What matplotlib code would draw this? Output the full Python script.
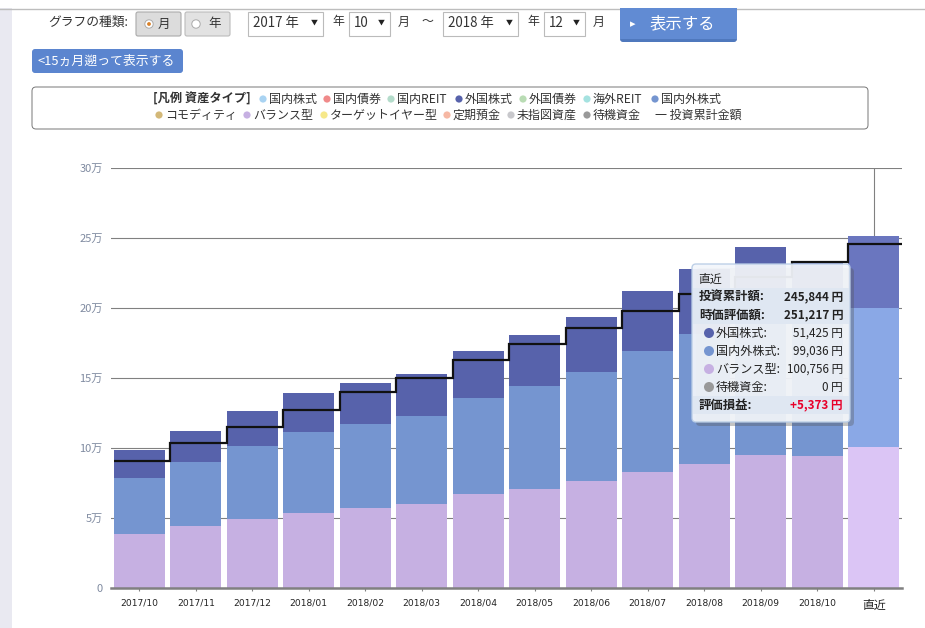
import matplotlib
matplotlib.use("Agg")
import matplotlib.pyplot as plt
import numpy as np
from matplotlib.patches import Circle, FancyBboxPatch, Rectangle

plt.rcParams['font.family'] = ['Noto Sans CJK JP', 'DejaVu Sans']

# chart values (yen)
months = ['2017/10', '2017/11', '2017/12', '2018/01', '2018/02', '2018/03', '2018/04',
          '2018/05', '2018/06', '2018/07', '2018/08', '2018/09', '2018/10', '直近']
balance = [38600, 44300, 49300, 53600, 57100, 60000, 67100,
           70700, 76400, 82900, 88600, 95000, 94300, 100756]
intl_mix = [40000, 45700, 52100, 57800, 60000, 63000, 68600,
            73600, 78000, 86400, 92800, 95000, 96700, 99036]
foreign = [20000, 22000, 25000, 27900, 29300, 30000, 33600,
           36400, 39200, 42800, 46500, 53600, 42000, 51425]
invested = [91000, 103600, 115000, 127000, 140000, 150000, 163000,
            174000, 186000, 198000, 210000, 222000, 233000, 245844]
y_ticks = [0, 50000, 100000, 150000, 200000, 250000, 300000]
y_labels = ['0', '5万', '10万', '15万', '20万', '25万', '30万']

legend_row1 = [('国内株式', '#a9d3f2', 263), ('国内債券', '#f08a8a', 327), ('国内REIT', '#b4dccb', 391),
               ('外国株式', '#5762ab', 459), ('外国債券', '#b9dcb4', 523), ('海外REIT', '#a5e2e0', 587),
               ('国内外株式', '#7595d0', 655)]
legend_row2 = [('コモディティ', '#d3b878', 159), ('バランス型', '#c6b0e2', 247), ('ターゲットイヤー型', '#f6e88a', 324),
               ('定期預金', '#f6b8a4', 447), ('未指図資産', '#c8c8cc', 511), ('待機資金', '#999999', 587)]

tip_rows = [('投資累計額:', '245,844 円', None), ('時価評価額:', '251,217 円', None),
            ('外国株式:', '51,425 円', '#5762ab'), ('国内外株式:', '99,036 円', '#7595d0'),
            ('バランス型:', '100,756 円', '#c6b0e2'), ('待機資金:', '0 円', '#999999'),
            ('評価損益:', '+5,373 円', None)]

W, H = 925, 628
fig = plt.figure(figsize=(W / 100, H / 100), dpi=100, facecolor='white')

# the chart itself
ax = fig.add_axes([111 / W, 1 - 588 / H, 791 / W, 420 / H])
x = np.arange(len(months))
balance = np.array(balance)
intl_mix = np.array(intl_mix)
foreign = np.array(foreign)

# last column is the hovered one, so it is lighter
col_balance = ['#c6b0e2'] * 13 + ['#dbc5f5']
col_mix = ['#7595d0'] * 13 + ['#8aa8e6']
col_foreign = ['#5762ab'] * 13 + ['#6a76bf']
ax.bar(x, balance, width=0.9, color=col_balance, zorder=3)
ax.bar(x, intl_mix, width=0.9, bottom=balance, color=col_mix, zorder=3)
ax.bar(x, foreign, width=0.9, bottom=balance + intl_mix, color=col_foreign, zorder=3)
ax.stairs(invested, np.arange(len(months) + 1) - 0.455, baseline=None, color='#111111', linewidth=1.6, zorder=4)
ax.plot([x[-1], x[-1]], [balance[-1] + intl_mix[-1] + foreign[-1], 300000], color='#808080', linewidth=0.8, zorder=2)

ax.set_xlim(-0.5, 13.5)
ax.set_ylim(0, 300000)
ax.set_yticks(y_ticks)
ax.set_yticklabels(y_labels, fontsize=8, color='#7f8aa0')
ax.set_xticks(x)
ax.set_xticklabels(months, fontsize=6.6, color='#222222', family='DejaVu Sans')
ax.get_xticklabels()[-1].set_fontsize(8.6)
ax.get_xticklabels()[-1].set_family('Noto Sans CJK JP')
ax.tick_params(axis='y', length=0, pad=6)
ax.tick_params(axis='x', length=2.5, color='#808080', pad=5)
ax.grid(axis='y', color='#808080', linewidth=0.8, zorder=1)
ax.set_axisbelow(True)
for name in ['top', 'left', 'right']:
    ax.spines[name].set_visible(False)
ax.spines['bottom'].set_color('#808080')
ax.spines['bottom'].set_linewidth(1.8)
ax.spines['bottom'].set_zorder(5)

# page furniture on an overlay in pixel coordinates
ui = fig.add_axes([0, 0, 1, 1], zorder=10)
ui.set_xlim(0, W)
ui.set_ylim(H, 0)
ui.axis('off')
ui.patch.set_alpha(0)


def box(x0, y0, x1, y1, face, edge='none', r=2, lw=0.8, alpha=1, z=1):
    ui.add_patch(FancyBboxPatch((x0 + r, y0 + r), x1 - x0 - 2 * r, y1 - y0 - 2 * r,
                                boxstyle='round,pad=%s,rounding_size=%s' % (r, r),
                                facecolor=face, edgecolor=edge, linewidth=lw, alpha=alpha, zorder=z))


def label(px, py, s, size=8.6, color='#333333', ha='left', weight='normal', z=6):
    ui.text(px, py, s, fontsize=size, color=color, ha=ha, va='center', fontweight=weight, zorder=z)


ui.add_patch(Rectangle((0, 8), 12, H - 8, facecolor='#e9e9f1', edgecolor='none'))
ui.plot([0, W], [8.5, 8.5], color='#bdbdbd', linewidth=1)

# form row
label(48, 22, 'グラフの種類:', 9.2)
box(136, 12, 181, 36, '#dcdcdc', '#aaaaaa')
box(185, 12, 230, 36, '#e2e2e2', '#bbbbbb')
ui.add_patch(Circle((149, 24), 4.2, facecolor='white', edgecolor='#aaaaaa', linewidth=0.7, zorder=3))
ui.add_patch(Circle((149, 24), 1.9, facecolor='#d9822b', edgecolor='none', zorder=4))
ui.add_patch(Circle((196, 24), 4.2, facecolor='white', edgecolor='#aaaaaa', linewidth=0.7, zorder=3))
label(158, 24, '月', 9)
label(208, 24, '年', 9)
for x0, x1, s in [(248, 323, '2017 年'), (349, 390, '10'), (443, 518, '2018 年'), (544, 585, '12')]:
    ui.add_patch(Rectangle((x0, 12), x1 - x0, 24, facecolor='white', edgecolor='#bbbbbb', linewidth=0.8, zorder=2))
    label(x0 + 5, 23, s, 9.6)
    label(x1 - 5, 23, '▼', 5, ha='right', color='#222222')
for px, s in [(332, '年'), (398, '月'), (421, '～'), (527, '年'), (593, '月')]:
    label(px, 22, s, 8.6)

box(620, 10, 737, 42, '#4f78bd', r=3)
ui.add_patch(Rectangle((620, 8), 117, 31, facecolor='#618bd3', edgecolor='none', zorder=2))
label(630, 24, '▸', 8, color='white')
label(650, 24, '表示する', 11.8, color='white')

box(32, 49, 183, 73, '#5b85cf', r=3)
label(38, 61, '<15ヵ月遡って表示する', 9.3, color='white')

# legend box
box(32, 87, 868, 129, 'white', '#777777', r=4, lw=0.7)
label(153, 99, '[凡例 資産タイプ]', 8.8, weight='bold')
for row, py in [(legend_row1, 99), (legend_row2, 115)]:
    for name, col, px in row:
        ui.add_patch(Circle((px, py), 3.6, facecolor=col, edgecolor='none', zorder=5))
        label(px + 6, py, name, 8.64)
label(655, 115, '一 投資累計金額', 8.64)

# tooltip
box(696, 268, 854, 426, '#555555', r=4, alpha=0.35, z=3)
box(692, 264, 850, 422, '#f3f6fb', '#b9cde6', r=4, lw=1, alpha=0.93, z=4)
label(698, 279, '直近', 8.6, color='#222222')
row_y = 297
for i, (name, val, col) in enumerate(tip_rows):
    head = col is None
    if head:
        ui.add_patch(Rectangle((693, row_y - 9), 156, 18, facecolor='#dfe7f2', edgecolor='none', zorder=5))
    if col:
        ui.add_patch(Circle((709, row_y), 5, facecolor=col, edgecolor='none', zorder=6))
    label(699 if head else 716, row_y, name, 8.9 if head else 8.7, color='#222222', weight='bold' if head else 'normal')
    label(843, row_y, val, 8.4, color='#e8002a' if name == '評価損益:' else '#222222', ha='right',
          weight='bold' if head else 'normal')
    row_y += 18

fig.savefig('out.png', dpi=100)
